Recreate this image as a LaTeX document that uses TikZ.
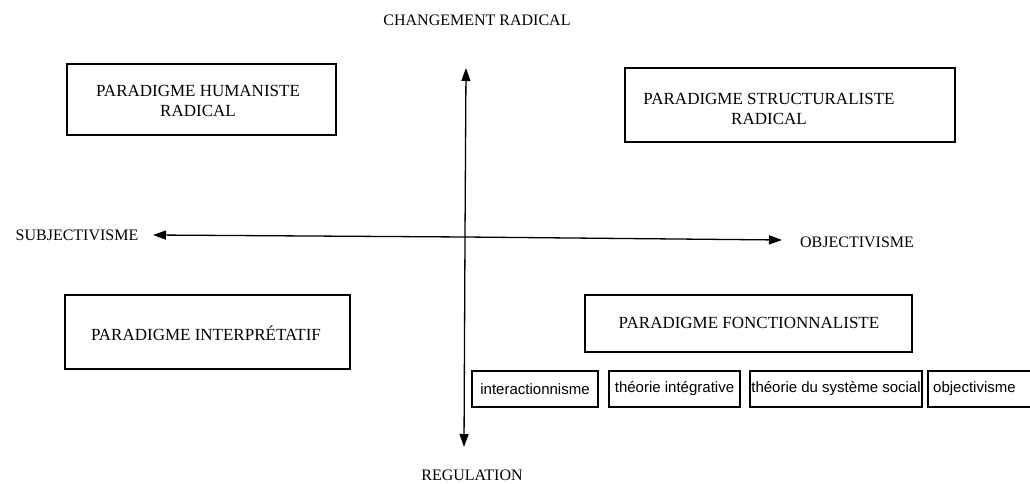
\documentclass[tikz,border=0pt]{standalone}
\usepackage{fontspec}
\setmainfont{Liberation Serif}
\newfontfamily\boxsans{Liberation Sans}
\usetikzlibrary{arrows.meta}
\begin{document}
\begin{tikzpicture}[x=1pt,y=-1pt,
  frame/.style={draw, line width=1.4pt, inner sep=0pt},
  caption/.style={font=\fontsize{17}{20}\selectfont, align=center, inner sep=0pt},
  axislabel/.style={font=\fontsize{16}{18}\selectfont, inner sep=0pt},
  smallbox/.style={draw, line width=1.2pt, inner sep=0pt, minimum height=36pt},
  smalltext/.style={font=\boxsans\fontsize{15}{18}\selectfont, inner sep=0pt},
  axis/.style={line width=1.3pt, -{Triangle[length=13pt,width=9pt]}}]
\useasboundingbox (0,0) rectangle (1030,484);

% axis labels
\node[axislabel] (ch)   at (477,20)  {CHANGEMENT RADICAL};
\node[axislabel] (reg)  at (472,475) {REGULATION};
\node[axislabel] (subj) at (77,235)  {SUBJECTIVISME};
\node[axislabel] (obj)  at (857,242) {OBJECTIVISME};

% axes
\coordinate (hub)   at (465,237);
\coordinate (vtop)  at (466,68);
\coordinate (vbot)  at (464,447);
\coordinate (hleft) at (153,235);
\coordinate (hright) at (782,240);
\draw[axis] (hub) -- (vtop);
\draw[axis] (hub) -- (vbot);
\draw[axis] (hub) -- (hleft);
\draw[axis] (hub) -- (hright);

% the four paradigms
\node[frame, minimum width=269pt, minimum height=71pt] (hum) at (201.5,99.5) {};
\node[caption] (humtext) at (198,101) {PARADIGME HUMANISTE\\RADICAL};

\node[frame, minimum width=330pt, minimum height=74pt] (str) at (790,105) {};
\node[caption] (strtext) at (769,108.5) {PARADIGME STRUCTURALISTE\\RADICAL};

\node[frame, minimum width=285pt, minimum height=74pt] (int) at (207.5,332) {};
\node[caption] (inttext) at (206,333) {PARADIGME INTERPRÉTATIF};

\node[frame, minimum width=327pt, minimum height=57pt] (fon) at (748.5,323.5) {};
\node[caption] (fontext) at (749,323) {PARADIGME FONCTIONNALISTE};

% functionalist sub-theories
\node[smallbox, minimum width=126pt] (sb1) at (535,389) {};
\node[smalltext] (sb1t) at (535,389) {interactionnisme};
\node[smallbox, minimum width=131pt] (sb2) at (674.5,389) {};
\node[smalltext] (sb2t) at (674.5,389) {théorie intégrative};
\node[smallbox, minimum width=172pt] (sb3) at (836,389) {};
\node[smalltext] (sb3t) at (836,389) {théorie du système social};
\node[smallbox, minimum width=117pt] (sb4) at (986.5,389) {};
\node[smalltext, anchor=west] (sb4t) at (933,389) {objectivisme};
\end{tikzpicture}
\end{document}
